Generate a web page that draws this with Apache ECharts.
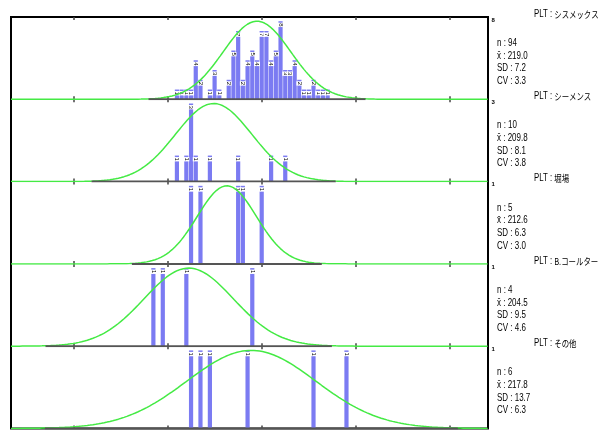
<!DOCTYPE html>
<html>
<head>
<meta charset="utf-8">
<script src="https://cdn.jsdelivr.net/npm/echarts@6/dist/echarts.min.js"></script>
<style>
html, body { margin: 0; padding: 0; background: #fff; }
#chart { width: 611px; height: 430px; }
</style>
</head>
<body>
<div id="chart"></div>
<script>
// PLT results grouped by analyser maker: histogram of reported values with a fitted normal curve
const makers = ['シスメックス', 'シーメンス', '堀場', 'B.コールター', 'その他'];
const nValues = [94, 10, 5, 4, 6];
const meanValues = [219.0, 209.8, 212.6, 204.5, 217.8];
const sdValues = [7.2, 8.1, 6.3, 9.5, 13.7];
const cvValues = [3.3, 3.8, 3.0, 4.6, 6.3];
const xTicks = [180, 200, 220, 240, 260];

const sysmexBins   = [202, 203, 204, 205, 206, 207, 209, 210, 211, 213, 214, 215, 216, 217, 218, 219, 220, 221, 222, 223, 224, 225, 226, 227, 228, 229, 230, 231, 232, 233, 234];
const sysmexCounts = [1, 1, 1, 1, 4, 2, 1, 3, 1, 2, 5, 7, 2, 4, 5, 4, 7, 7, 4, 5, 8, 3, 3, 4, 2, 1, 1, 2, 1, 1, 1];
const siemensBins   = [202, 204, 205, 206, 209, 215, 222, 225];
const siemensCounts = [1, 1, 3, 1, 1, 1, 1, 1];
const horibaBins   = [205, 207, 215, 216, 220];
const horibaCounts = [1, 1, 1, 1, 1];
const coulterBins   = [197, 199, 204, 218];
const coulterCounts = [1, 1, 1, 1];
const otherBins   = [205, 207, 209, 217, 231, 238];
const otherCounts = [1, 1, 1, 1, 1, 1];

const binSets = [
  [sysmexBins, sysmexCounts],
  [siemensBins, siemensCounts],
  [horibaBins, horibaCounts],
  [coulterBins, coulterCounts],
  [otherBins, otherCounts]
];

// layout
const PLOT_LEFT = 11, PLOT_RIGHT = 488, PANEL_TOP = 17, PANEL_H = 82.3;
const X_MIN = 166.77, X_MAX = 268.05;
const BASE_SPAN = 3.2;      // dark base segment covers mean ± 3.2 SD
const HEAD_ROOM = 1.054;    // tallest bar / curve peak sits a little below the panel top
const CURVE_STEP = 0.2;

const grid = [], xAxis = [], yAxis = [], series = [], graphic = [];

binSets.forEach(([bins, counts], i) => {
  const top = PANEL_TOP + i * PANEL_H;
  const maxCount = Math.max(...counts);
  const yMax = maxCount * HEAD_ROOM;
  const mean = meanValues[i], sd = sdValues[i];

  grid.push({ left: PLOT_LEFT, top: top, width: PLOT_RIGHT - PLOT_LEFT, height: PANEL_H, show: false });

  const tickAxis = (position) => ({
    type: 'value', gridIndex: i, position: position, min: X_MIN, max: X_MAX,
    axisLine: { show: false }, axisLabel: { show: false }, splitLine: { show: false },
    axisTick: { show: true, inside: true, length: 3, customValues: xTicks,
                lineStyle: { color: '#444', width: 1.5 } }
  });
  xAxis.push(tickAxis('bottom'), tickAxis('top'));

  yAxis.push({
    type: 'value', gridIndex: i, position: 'right', min: 0, max: yMax,
    axisLine: { show: false }, axisTick: { show: false }, splitLine: { show: false },
    axisLabel: {
      customValues: [yMax], formatter: () => String(maxCount),
      verticalAlign: 'top', margin: 3.5, fontSize: 6, fontWeight: 'bold', color: '#000',
      fontFamily: 'Liberation Sans'
    }
  });

  // histogram bars with rotated count labels
  series.push({
    type: 'bar', xAxisIndex: 2 * i, yAxisIndex: i, z: 2,
    data: bins.map((b, k) => [b, counts[k]]),
    barWidth: 4.2,
    itemStyle: { color: '#7b7bf2' },
    label: {
      show: true, position: 'insideTop', distance: 1.5, rotate: -90,
      align: 'left', verticalAlign: 'middle',
      fontSize: 6, lineHeight: 6, padding: [0, 0.5], fontFamily: 'Liberation Sans',
      backgroundColor: '#fff', color: '#000',
      formatter: (p) => String(p.value[1])
    }
  });

  // fitted normal curve, peak scaled to the tallest bar
  const curve = [];
  for (let x = X_MIN; x <= X_MAX + 1e-9; x += CURVE_STEP) {
    const z = (x - mean) / sd;
    curve.push([x, maxCount * Math.exp(-0.5 * z * z)]);
  }
  series.push({
    type: 'line', xAxisIndex: 2 * i, yAxisIndex: i, z: 3,
    data: curve, symbol: 'none', silent: true,
    lineStyle: { color: '#44ea44', width: 1.5 }
  });

  // dark base segment under the distribution
  series.push({
    type: 'line', xAxisIndex: 2 * i, yAxisIndex: i, z: 4,
    data: [[mean - BASE_SPAN * sd, 0], [mean + BASE_SPAN * sd, 0]],
    symbol: 'none', silent: true,
    lineStyle: { color: '#555', width: 2 }
  });

  // maker name and summary statistics
  graphic.push({
    type: 'text', x: 534, y: top - 3, scaleX: 0.78,
    style: {
      text: 'PLT : {j|' + makers[i] + '}',
      font: '10px "Liberation Sans"', fill: '#000',
      align: 'left', verticalAlign: 'middle',
      rich: { j: { font: '9.5px "Noto Sans CJK JP"', fill: '#000' } }
    }
  });
  const lines = [
    'n : ' + nValues[i],
    'x\u0304 : ' + mean.toFixed(1),
    'SD : ' + sd.toFixed(1),
    'CV : ' + cvValues[i].toFixed(1)
  ];
  lines.forEach((t, k) => {
    graphic.push({
      type: 'text', x: 497, y: top + 26.3 + k * 12.6, scaleX: 0.76,
      style: { text: t, font: '10.5px "Liberation Sans"', fill: '#000', align: 'left', verticalAlign: 'middle' }
    });
  });
});

// outer frame
grid.push({
  left: PLOT_LEFT, top: PANEL_TOP, width: PLOT_RIGHT - PLOT_LEFT, height: 5 * PANEL_H,
  show: true, borderColor: '#000', borderWidth: 2, backgroundColor: 'transparent'
});
xAxis.push({ type: 'value', gridIndex: 5, show: false, min: 0, max: 1 });
yAxis.push({ type: 'value', gridIndex: 5, show: false, min: 0, max: 1 });

const chart = echarts.init(document.getElementById('chart'), null, { renderer: 'canvas' });
chart.setOption({
  animation: false,
  backgroundColor: '#fff',
  grid: grid,
  xAxis: xAxis,
  yAxis: yAxis,
  series: series,
  graphic: graphic
});
</script>
</body>
</html>
